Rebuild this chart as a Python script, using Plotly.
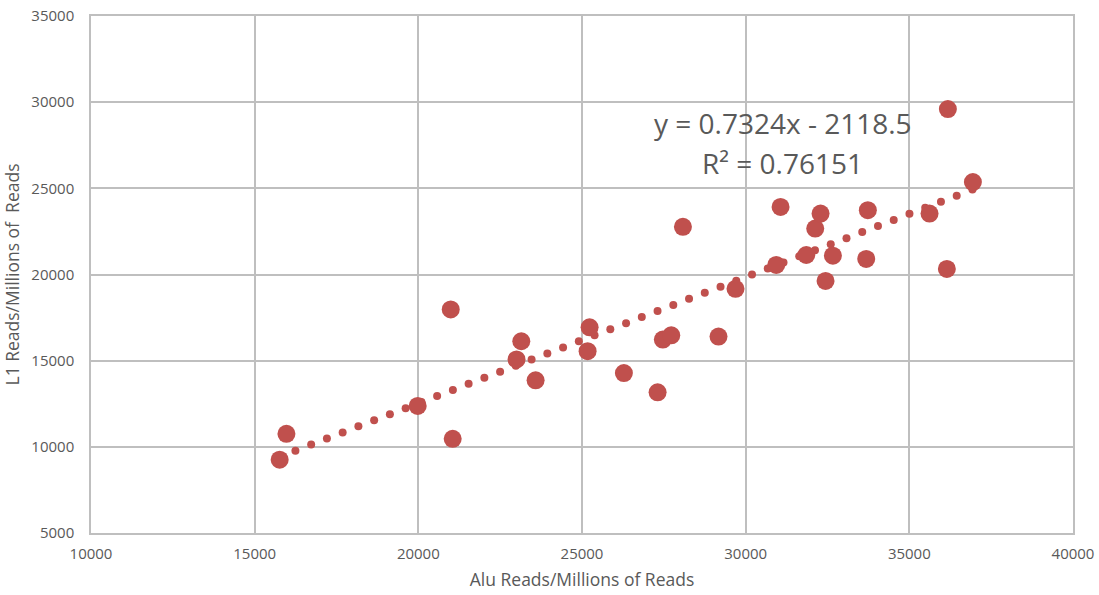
import numpy as np
import plotly.graph_objects as go

# Data
alu_reads = [15764, 15970, 19980, 20990, 21050, 23000, 23146, 23583, 25171, 25232,
             26280, 27310, 27470, 27727, 28083, 29170, 29690, 30934, 31066, 31852,
             32125, 32288, 32440, 32665, 33683, 33732, 35617, 36146, 36177, 36942]
l1_reads = [9255, 10757, 12373, 17973, 10468, 15070, 16127, 13857, 15550, 16935,
            14280, 13165, 16225, 16473, 22767, 16400, 19170, 20555, 23922, 21132,
            22668, 23535, 19630, 21092, 20901, 23730, 23535, 20326, 29597, 25366]

slope = 0.7324
intercept = -2118.5
r_squared = 0.76151
trend_step = 481  # spacing of the dotted trendline in x units

x_ticks = [10000, 15000, 20000, 25000, 30000, 35000, 40000]
y_ticks = [5000, 10000, 15000, 20000, 25000, 30000, 35000]

red = "#C0504D"
grid = "#BFBFBF"
txt = "#595959"
font = "Open Sans"

tx = np.arange(min(alu_reads), max(alu_reads) + 1, trend_step)
ty = slope * tx + intercept

fig = go.Figure()
fig.add_trace(go.Scatter(x=tx, y=ty, mode="markers",
                         marker=dict(size=8, color=red, line=dict(width=0)),
                         hoverinfo="skip", showlegend=False))
fig.add_trace(go.Scatter(x=alu_reads, y=l1_reads, mode="markers",
                         marker=dict(size=18, color=red, line=dict(width=0)),
                         showlegend=False))

fig.add_annotation(x=31130, y=28780, xref="x", yref="y",
                   text=f"y = {slope}x - {intercept*-1}",
                   showarrow=False, align="center",
                   font=dict(family=font, size=28, color=txt))
fig.add_annotation(x=31130, y=26470, xref="x", yref="y",
                   text=f"R² = {r_squared}",
                   showarrow=False, align="center",
                   font=dict(family=font, size=28, color=txt))

axis_common = dict(showgrid=True, gridcolor=grid, gridwidth=1.5,
                   showline=True, linecolor=grid, linewidth=1.5, mirror=True,
                   zeroline=False, ticks="", automargin=False,
                   tickfont=dict(family=font, size=15, color=txt))

fig.update_layout(
    width=1099, height=595,
    margin=dict(l=91, r=26, t=16, b=62),
    paper_bgcolor="white", plot_bgcolor="white",
    xaxis=dict(range=[10000, 40000], tickvals=x_ticks, ticktext=[str(v) for v in x_ticks],
               title=dict(text="Alu Reads/Millions of Reads", standoff=12,
                          font=dict(family=font, size=17.5, color=txt)),
               ticklabelstandoff=6, **axis_common),
    yaxis=dict(range=[5000, 35000], tickvals=y_ticks, ticktext=[str(v) for v in y_ticks],
               title=dict(text="L1 Reads/Millions of  Reads", standoff=12,
                          font=dict(family=font, size=17.5, color=txt)),
               ticklabelstandoff=12, **axis_common),
)

fig.write_html("out.html")
